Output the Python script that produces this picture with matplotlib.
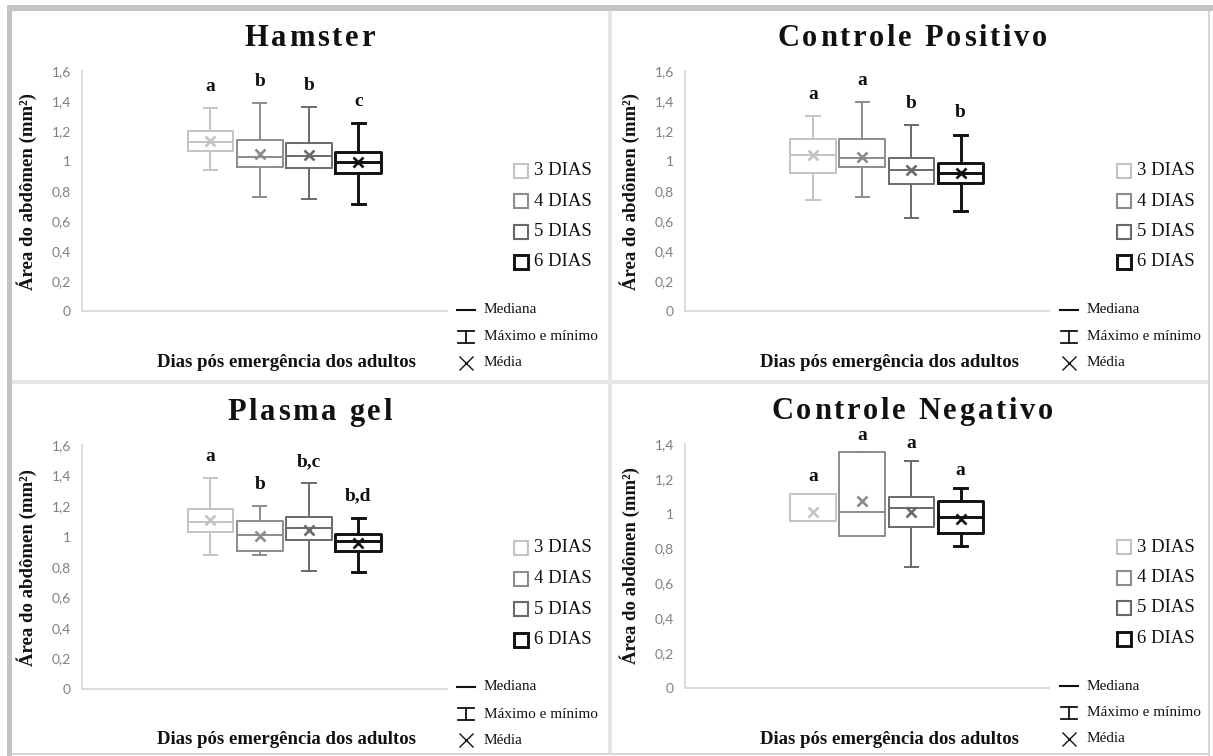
import numpy as np
import matplotlib
matplotlib.use('Agg')
import matplotlib.pyplot as plt
from matplotlib.patches import Rectangle
from matplotlib.textpath import TextToPath
from matplotlib.font_manager import FontProperties

W, H = 1213, 756

days = ['3 DIAS', '4 DIAS', '5 DIAS', '6 DIAS']

# Hamster
hamster_min = [0.94, 0.765, 0.75, 0.715]
hamster_q1 = [1.07, 0.965, 0.955, 0.925]
hamster_med = [1.13, 1.03, 1.035, 0.995]
hamster_q3 = [1.205, 1.145, 1.12, 1.065]
hamster_max = [1.355, 1.39, 1.365, 1.255]
hamster_mean = [1.135, 1.05, 1.045, 0.995]
hamster_letters = ['a', 'b', 'b', 'c']

# Controle Positivo
cpos_min = [0.74, 0.765, 0.625, 0.67]
cpos_q1 = [0.92, 0.96, 0.85, 0.855]
cpos_med = [1.045, 1.025, 0.945, 0.92]
cpos_q3 = [1.148, 1.148, 1.02, 0.987]
cpos_max = [1.30, 1.395, 1.245, 1.18]
cpos_mean = [1.04, 1.03, 0.945, 0.92]
cpos_letters = ['a', 'a', 'b', 'b']

# Plasma gel
plasma_min = [0.88, 0.88, 0.777, 0.766]
plasma_q1 = [1.028, 0.902, 0.978, 0.902]
plasma_med = [1.094, 1.007, 1.059, 0.972]
plasma_q3 = [1.181, 1.103, 1.127, 1.015]
plasma_max = [1.386, 1.203, 1.349, 1.124]
plasma_mean = [1.11, 1.005, 1.045, 0.96]
plasma_letters = ['a', 'b', 'b,c', 'b,d']

# Controle Negativo
cneg_min = [0.959, 0.873, 0.693, 0.812]
cneg_q1 = [0.959, 0.873, 0.922, 0.892]
cneg_med = [0.959, 1.008, 1.031, 0.98]
cneg_q3 = [1.113, 1.352, 1.098, 1.075]
cneg_max = [1.113, 1.352, 1.304, 1.15]
cneg_mean = [1.008, 1.075, 1.008, 0.97]
cneg_letters = ['a', 'a', 'a', 'a']

ticks_16 = [0, 0.2, 0.4, 0.6, 0.8, 1.0, 1.2, 1.4, 1.6]
ticks_14 = [0, 0.2, 0.4, 0.6, 0.8, 1.0, 1.2, 1.4]

box_colors = ['#c4c4c4', '#8c8c8c', '#6a6a6a', '#111111']
box_lw = [1.4, 1.4, 1.4, 2.1]
axis_color = '#d9d9d9'
serif = 'Liberation Serif'

# panel: title, data, letters, ticks, pixel box (left, right, top px, zero px), title baseline, letter offset (pt)
panels = [
    ('Hamster', (hamster_min, hamster_q1, hamster_med, hamster_q3, hamster_max, hamster_mean),
     hamster_letters, ticks_16, (82, 447, 71.5, 311.5), 46, 15.5),
    ('Controle Positivo', (cpos_min, cpos_q1, cpos_med, cpos_q3, cpos_max, cpos_mean),
     cpos_letters, ticks_16, (685, 1049, 71.5, 311.5), 46, 15.5),
    ('Plasma gel', (plasma_min, plasma_q1, plasma_med, plasma_q3, plasma_max, plasma_mean),
     plasma_letters, ticks_16, (82, 447, 445, 689), 420, 15.5),
    ('Controle Negativo', (cneg_min, cneg_q1, cneg_med, cneg_q3, cneg_max, cneg_mean),
     cneg_letters, ticks_14, (685, 1049, 444, 688), 419, 12.5),
]

fig = plt.figure(figsize=(W / 100, H / 100), dpi=100)
fig.patch.set_facecolor('white')

# overlay in pixel coordinates for frame, titles, labels and legends
ov = fig.add_axes([0, 0, 1, 1])
ov.set_xlim(0, W)
ov.set_ylim(H, 0)
ov.axis('off')

# frame and dividers
ov.add_patch(Rectangle((7, 5), W - 7, 6, color='#c3c3c3', lw=0))
ov.add_patch(Rectangle((7, 5), 5, H - 5, color='#c3c3c3', lw=0))
ov.add_patch(Rectangle((W - 5, 11), 2, H - 11, color='#d6d6d6', lw=0))
ov.add_patch(Rectangle((12, H - 3), W - 17, 2, color='#d6d6d6', lw=0))
ov.add_patch(Rectangle((608, 11), 4, H - 14, color='#e6e6e6', lw=0))
ov.add_patch(Rectangle((12, 380), W - 17, 4, color='#e6e6e6', lw=0))

ttp = TextToPath()


def spaced_title(xc, yb, s, size=22, gap=2.7):
    prop = FontProperties(family=serif, weight='bold', size=size)
    widths = []
    for c in s:
        if c == ' ':
            widths.append(0.25 * size * 100 / 72)
        else:
            widths.append(ttp.get_text_width_height_descent(c, prop, ismath=False)[0] * 100 / 72)
    x = xc - (sum(widths) + gap * (len(s) - 1)) / 2
    for c, w in zip(s, widths):
        ov.text(x, yb, c, fontproperties=prop, ha='left', va='baseline', color='#111111')
        x += w + gap


def fmt(v):
    return ('%g' % round(v, 1)).replace('.', ',')


for title, data, letters, ticks, (left, right, top, zero), title_y, let_off in panels:
    lo, q1, med, q3, hi, mu = data
    ax = fig.add_axes([left / W, 1 - zero / H, (right - left) / W, (zero - top) / H])
    ax.patch.set_alpha(0)

    pos = np.arange(len(days))
    stats = [dict(whislo=lo[i], q1=q1[i], med=med[i], q3=q3[i], whishi=hi[i],
                  mean=mu[i], fliers=[]) for i in range(len(days))]
    bp = ax.bxp(stats, positions=pos, widths=0.93, capwidths=0.27, showmeans=True,
                showfliers=False, manage_ticks=False)
    for i, c in enumerate(box_colors):
        lw = box_lw[i]
        bp['boxes'][i].set(color=c, lw=lw)
        bp['medians'][i].set(color=c, lw=lw)
        for j in (2 * i, 2 * i + 1):
            bp['whiskers'][j].set(color=c, lw=lw)
            bp['caps'][j].set(color=c, lw=lw)
        bp['means'][i].set(marker='x', markersize=7, markeredgewidth=1.9,
                           markeredgecolor=c, markerfacecolor=c)
        ax.annotate(letters[i], (pos[i], hi[i]), xytext=(0, let_off), textcoords='offset points',
                    ha='center', va='center', fontsize=14, fontweight='bold',
                    family=serif, color='#111111')

    ax.set_xlim(-2.606, 4.80)
    ax.set_ylim(0, ticks[-1])
    ax.set_yticks(ticks)
    ax.set_yticklabels([fmt(t) for t in ticks], fontsize=10, color='#808080', family='Lato')
    ax.set_xticks([])
    ax.tick_params(axis='y', length=0, pad=8)
    for s in ('top', 'right'):
        ax.spines[s].set_visible(False)
    for s in ('left', 'bottom'):
        ax.spines[s].set_color(axis_color)
        ax.spines[s].set_linewidth(1.3)

    # title
    spaced_title((left + right) / 2 + 45, title_y, title)

    # axis labels
    ov.text(left - 55, (top + zero) / 2, 'Área do abdômen (mm²)', rotation=90,
            ha='center', va='center', fontsize=13.5, fontweight='bold', family=serif,
            color='#111111')
    ov.text(left + 204.5, zero + 51, 'Dias pós emergência dos adultos', ha='center',
            va='center', fontsize=13.5, fontweight='bold', family=serif, color='#111111')

    # series legend
    for i, (d, c) in enumerate(zip(days, box_colors)):
        yy = zero - 141 + i * 30.5
        ov.plot(left + 439, yy, marker='s', markersize=9.5, markerfacecolor='white',
                markeredgecolor=c, markeredgewidth=1.5 if i < 3 else 2.1)
        ov.text(left + 452, yy, d, ha='left', va='center', fontsize=13.5, family=serif,
                color='#111111')

    # symbol legend
    sx0, sx1 = left + 375, left + 393
    y1, y2, y3 = zero - 2, zero + 25, zero + 51
    ov.plot([sx0, sx1], [y1, y1], color='#111111', lw=1.5)
    ov.plot([sx0 + 9, sx0 + 9], [y2 - 6, y2 + 6], color='#111111', lw=1.3)
    ov.plot([sx0 + 1, sx1 - 1], [y2 - 6, y2 - 6], color='#111111', lw=1.3)
    ov.plot([sx0 + 1, sx1 - 1], [y2 + 6, y2 + 6], color='#111111', lw=1.3)
    ov.plot(sx0 + 9, y3, marker='x', markersize=10, markeredgewidth=1.0, color='#111111')
    for yy, lab in zip((y1, y2, y3), ('Mediana', 'Máximo e mínimo', 'Média')):
        ov.text(left + 402, yy, lab, ha='left', va='center', fontsize=11, family=serif,
                color='#111111')

fig.savefig('out.png', dpi=100)
